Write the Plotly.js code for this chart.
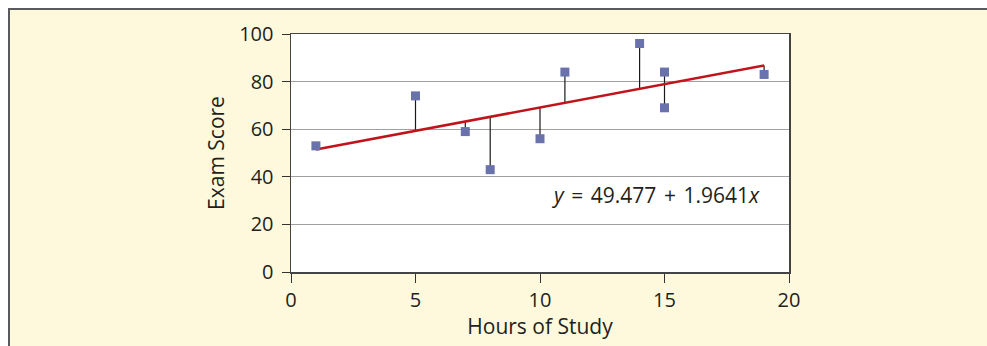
<!DOCTYPE html>
<html>
<head>
<meta charset="utf-8">
<script src="https://cdn.plot.ly/plotly-3.0.1.min.js"></script>
<style>
  html, body { margin: 0; padding: 0; background: #ffffff; width: 987px; height: 346px; overflow: hidden; }
  #frame { position: absolute; left: 8px; top: 8px; width: 1000px; height: 400px; background: #fef9dd; border-top: 2px solid #5a5a5a; border-left: 2px solid #5a5a5a; }
  #chart { position: absolute; left: 0; top: 0; width: 987px; height: 346px; }
</style>
</head>
<body>
<div id="frame"></div>
<div id="chart"></div>
<script>
// Data
const hours = [1, 5, 7, 8, 10, 11, 14, 15, 15, 19];
const scores = [53, 74, 59, 43, 56, 84, 96, 84, 69, 83];
// Regression coefficients shown in the chart
const intercept = 49.477;
const slope = 1.9641;
const lineX = [1, 19];
const xTicks = [0, 5, 10, 15, 20];
const yTicks = [0, 20, 40, 60, 80, 100];
const equationLabel = '<i>y</i>\u00a0\u200a=\u00a0\u200a49.477\u00a0\u200a+\u00a0\u200a1.9641<i>x</i>';

const fit = x => intercept + slope * x;

const resX = [], resY = [];
hours.forEach((x, i) => { resX.push(x, x, null); resY.push(scores[i], fit(x), null); });

const font = 'Open Sans, Noto Sans, sans-serif';

const traces = [
  { x: resX, y: resY, mode: 'lines', line: { color: '#1a1a1a', width: 1.2 }, hoverinfo: 'skip', showlegend: false },
  { x: lineX, y: lineX.map(fit), mode: 'lines', line: { color: '#c0141c', width: 2.6 }, showlegend: false },
  { x: hours, y: scores, mode: 'markers', marker: { symbol: 'square', size: 9, color: '#6a72ac' }, showlegend: false }
];

const layout = {
  width: 987, height: 346,
  margin: { l: 291, r: 198, t: 34, b: 74 },
  paper_bgcolor: 'rgba(0,0,0,0)',
  plot_bgcolor: '#ffffff',
  font: { family: font, size: 20, color: '#231f20' },
  xaxis: {
    range: [0, 20], tickvals: xTicks, ticks: 'outside', ticklen: 9, tickcolor: '#333',
    showline: true, linecolor: '#444', linewidth: 1.5, mirror: true,
    showgrid: false, zeroline: false, tickfont: { size: 20 },
    title: { text: 'Hours of Study', font: { size: 21 }, standoff: 5 }
  },
  yaxis: {
    range: [0, 100], tickvals: yTicks, ticks: 'outside', ticklen: 8, tickcolor: '#333',
    showline: true, linecolor: '#444', linewidth: 1.5, mirror: true,
    showgrid: true, gridcolor: '#a0a0a0', gridwidth: 1, zeroline: false,
    tickfont: { size: 20 }, ticklabelstandoff: 4,
    title: { text: 'Exam Score', font: { size: 21 }, standoff: 9 }
  },
  annotations: [{
    x: 14.65, y: 32.5, xref: 'x', yref: 'y', text: equationLabel, showarrow: false,
    xanchor: 'center', yanchor: 'middle', font: { size: 21, color: '#231f20' }
  }]
};

Plotly.newPlot('chart', traces, layout, { displayModeBar: false, staticPlot: true });
</script>
</body>
</html>
